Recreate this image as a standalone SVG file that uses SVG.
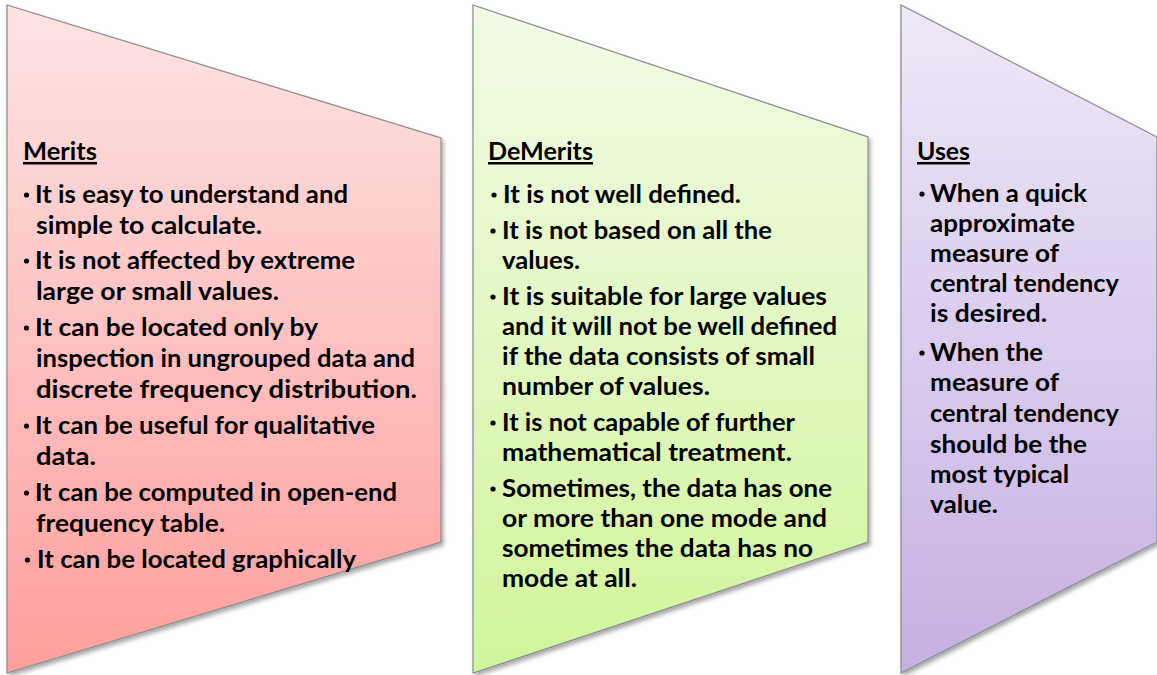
<svg xmlns="http://www.w3.org/2000/svg" width="1157" height="675" viewBox="0 0 1157 675">
<defs>
<linearGradient id="gRed" x1="0" y1="0" x2="0" y2="1">
<stop offset="0" stop-color="#FDE4E4"/><stop offset="1" stop-color="#FF9E9E"/>
</linearGradient>
<linearGradient id="gGreen" x1="0" y1="0" x2="0" y2="1">
<stop offset="0" stop-color="#F2FAE8"/><stop offset="1" stop-color="#D2F59A"/>
</linearGradient>
<linearGradient id="gPurple" x1="0" y1="0" x2="0" y2="1">
<stop offset="0" stop-color="#EEE9F7"/><stop offset="1" stop-color="#C5B0E2"/>
</linearGradient>
<filter id="sh" x="-10%" y="-10%" width="120%" height="120%">
<feDropShadow dx="2" dy="3" stdDeviation="2" flood-color="#000" flood-opacity="0.35"/>
</filter>
</defs>
<style>
.shape{stroke:#8A8A8A;stroke-width:1.2;filter:url(#sh)}
text{font-family:Lato,"Liberation Sans",sans-serif;font-weight:bold;font-size:25px;fill:#000}
.h{text-decoration:underline}
.b{fill:#000}
</style>
<rect width="1157" height="675" fill="#fff"/>
<g id="merits">
<path class="shape" d="M7,5 L441,138 L441,542 L7,673 Z" fill="url(#gRed)"/>
<text class="h" x="23" y="160" textLength="74" lengthAdjust="spacingAndGlyphs">Merits</text>
<circle class="b" cx="26.5" cy="195" r="2.6"/><text x="35" y="203" textLength="313" lengthAdjust="spacingAndGlyphs">It is easy to understand and</text>
<text x="36" y="234" textLength="226" lengthAdjust="spacingAndGlyphs">simple to calculate.</text>
<circle class="b" cx="26.5" cy="261" r="2.6"/><text x="35" y="269" textLength="320" lengthAdjust="spacingAndGlyphs">It is not affected by extreme</text>
<text x="36" y="300" textLength="243" lengthAdjust="spacingAndGlyphs">large or small values.</text>
<circle class="b" cx="26.5" cy="328" r="2.6"/><text x="35" y="336" textLength="283" lengthAdjust="spacingAndGlyphs">It can be located only by</text>
<text x="36" y="367" textLength="379" lengthAdjust="spacingAndGlyphs">inspection in ungrouped data and</text>
<text x="36" y="398" textLength="381" lengthAdjust="spacingAndGlyphs">discrete frequency distribution.</text>
<circle class="b" cx="26.5" cy="426" r="2.6"/><text x="35" y="434" textLength="340" lengthAdjust="spacingAndGlyphs">It can be useful for qualitative</text>
<text x="36" y="465" textLength="60" lengthAdjust="spacingAndGlyphs">data.</text>
<circle class="b" cx="26.5" cy="493" r="2.6"/><text x="35" y="501" textLength="362" lengthAdjust="spacingAndGlyphs">It can be computed in open-end</text>
<text x="36" y="532" textLength="189" lengthAdjust="spacingAndGlyphs">frequency table.</text>
<circle class="b" cx="27.5" cy="560" r="2.6"/><text x="37" y="568" textLength="319" lengthAdjust="spacingAndGlyphs">It can be located graphically</text>
</g>
<g id="demerits">
<path class="shape" d="M473,5 L868,137 L868,542 L473,673 Z" fill="url(#gGreen)"/>
<text class="h" x="488" y="160" textLength="105" lengthAdjust="spacingAndGlyphs">DeMerits</text>
<circle class="b" cx="494" cy="195" r="2.6"/><text x="503" y="203" textLength="238" lengthAdjust="spacingAndGlyphs">It is not well defined.</text>
<circle class="b" cx="493" cy="231" r="2.6"/><text x="502" y="239" textLength="270" lengthAdjust="spacingAndGlyphs">It is not based on all the</text>
<text x="502" y="269" textLength="78" lengthAdjust="spacingAndGlyphs">values.</text>
<circle class="b" cx="493" cy="297" r="2.6"/><text x="502" y="305" textLength="325" lengthAdjust="spacingAndGlyphs">It is suitable for large values</text>
<text x="502" y="335" textLength="335" lengthAdjust="spacingAndGlyphs">and it will not be well defined</text>
<text x="502" y="365" textLength="313" lengthAdjust="spacingAndGlyphs">if the data consists of small</text>
<text x="502" y="395" textLength="208" lengthAdjust="spacingAndGlyphs">number of values.</text>
<circle class="b" cx="493" cy="423" r="2.6"/><text x="502" y="431" textLength="293" lengthAdjust="spacingAndGlyphs">It is not capable of further</text>
<text x="502" y="461" textLength="290" lengthAdjust="spacingAndGlyphs">mathematical treatment.</text>
<circle class="b" cx="493" cy="489" r="2.6"/><text x="502" y="497" textLength="330" lengthAdjust="spacingAndGlyphs">Sometimes, the data has one</text>
<text x="502" y="527" textLength="325" lengthAdjust="spacingAndGlyphs">or more than one mode and</text>
<text x="502" y="557" textLength="311" lengthAdjust="spacingAndGlyphs">sometimes the data has no</text>
<text x="502" y="587" textLength="135" lengthAdjust="spacingAndGlyphs">mode at all.</text>
</g>
<g id="uses">
<path class="shape" d="M901,5 L1157,137 L1157,542 L901,673 Z" fill="url(#gPurple)"/>
<text class="h" x="917" y="160" textLength="53" lengthAdjust="spacingAndGlyphs">Uses</text>
<circle class="b" cx="922" cy="194" r="2.6"/><text x="930" y="202" textLength="157" lengthAdjust="spacingAndGlyphs">When a quick</text>
<text x="930" y="232" textLength="145" lengthAdjust="spacingAndGlyphs">approximate</text>
<text x="930" y="262" textLength="129" lengthAdjust="spacingAndGlyphs">measure of</text>
<text x="930" y="292" textLength="189" lengthAdjust="spacingAndGlyphs">central tendency</text>
<text x="930" y="322" textLength="117" lengthAdjust="spacingAndGlyphs">is desired.</text>
<circle class="b" cx="922" cy="353" r="2.6"/><text x="930" y="361" textLength="113" lengthAdjust="spacingAndGlyphs">When the</text>
<text x="930" y="391" textLength="129" lengthAdjust="spacingAndGlyphs">measure of</text>
<text x="930" y="422" textLength="189" lengthAdjust="spacingAndGlyphs">central tendency</text>
<text x="930" y="453" textLength="157" lengthAdjust="spacingAndGlyphs">should be the</text>
<text x="930" y="483" textLength="139" lengthAdjust="spacingAndGlyphs">most typical</text>
<text x="930" y="513" textLength="68" lengthAdjust="spacingAndGlyphs">value.</text>
</g>
<g id="connectors"/>
</svg>
